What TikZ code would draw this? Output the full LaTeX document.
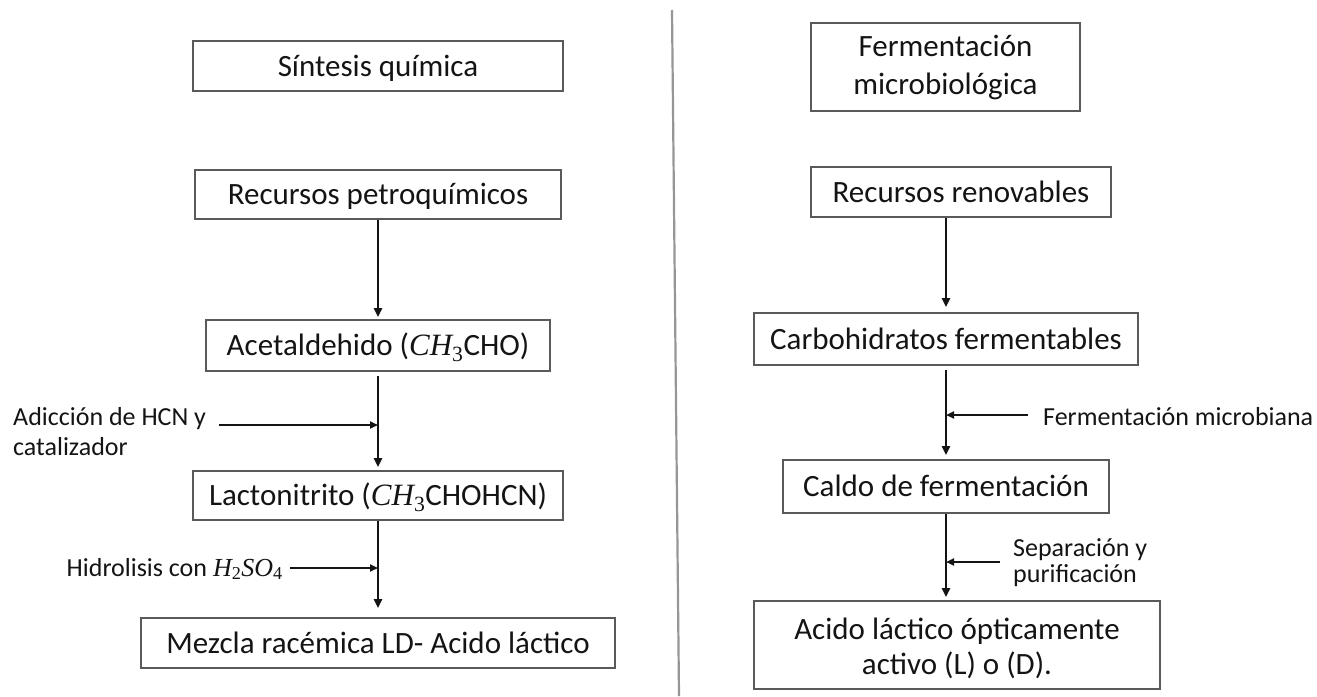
\documentclass[tikz,border=0pt]{standalone}
\usepackage{fontspec}
\setmainfont{Carlito}
\newfontfamily\formulafont{Liberation Serif}
\usetikzlibrary{arrows.meta}

% italic formula letters with upright subscripts
\newcommand{\fml}[1]{{\formulafont\itshape #1}}
\newcommand{\fsub}[1]{\textsubscript{\formulafont #1}}

\definecolor{ink}{RGB}{20,20,20}
\definecolor{frame}{RGB}{90,90,90}
\definecolor{divider}{RGB}{150,150,150}

\tikzset{
  box/.style={draw=frame, line width=1.8pt, inner sep=0pt, text=ink,
              font=\fontsize{31}{36}\selectfont, align=center},
  oneline/.style={text height=24pt, text depth=4pt},
  flow/.style={draw=ink, line width=2.3pt, -{Triangle[length=9pt,width=8pt]}},
  feed/.style={draw=ink, line width=1.9pt, -{Triangle[length=8pt,width=7pt]}},
  note/.style={inner sep=0pt, text=ink, align=left,
               font=\fontsize{26}{30}\selectfont},
}

\begin{document}
\begin{tikzpicture}[x=1pt, y=-1pt]
\useasboundingbox (0,0) rectangle (1317,696);

% divider between the two routes
\draw[divider, line width=2.2pt] (672,10) -- (679,696);

% ---- chemical synthesis route ----
\node[box, oneline, minimum width=370pt, minimum height=50pt] (sint) at (378,66) {Síntesis química};
\node[box, oneline, minimum width=366pt, minimum height=49pt] (petro) at (378,194.5) {Recursos petroquímicos};
\node[box, oneline, minimum width=344pt, minimum height=51pt] (acet) at (378,345.5)
  {Acetaldehido (\fml{CH}\fsub{3}CHO)};
\node[box, oneline, minimum width=370pt, minimum height=49pt] (lacto) at (378,495.5)
  {Lactonitrito (\fml{CH}\fsub{3}CHOHCN)};
\node[box, oneline, minimum width=474pt, minimum height=50pt] (mezcla) at (378,643)
  {Mezcla racémica LD- Acido láctico};

\draw[flow, shorten >=2pt] (petro.south) -- (petro.south |- acet.north);
\draw[flow, shorten <=4pt, shorten >=3pt] (acet.south) -- (acet.south |- lacto.north);
\draw[flow, shorten >=9pt] (lacto.south) -- (lacto.south |- mezcla.north);

\node[note, anchor=west] (adic) at (13,432) {Adicción de HCN y\\catalizador};
\coordinate (adicstart) at (219,425);
\coordinate (adicjoin) at (378,425);
\draw[feed] (adicstart) -- (adicjoin);

\node[note, anchor=base east] (hidro) at (283,576)
  {Hidrolisis con \fml{H}\fsub{2}\fml{SO}\fsub{4}};
\coordinate (hidrostart) at (290,568);
\coordinate (hidrojoin) at (378,568);
\draw[feed] (hidrostart) -- (hidrojoin);

% ---- microbial fermentation route ----
\node[box, minimum width=269pt, minimum height=88pt, font=\fontsize{31}{38}\selectfont]
  (ferm) at (945.5,67) {Fermentación\\microbiológica};
\node[box, oneline, minimum width=300pt, minimum height=50pt] (renov) at (961,192) {Recursos renovables};
\node[box, oneline, minimum width=384pt, minimum height=52pt] (carbo) at (946,339) {Carbohidratos fermentables};
\node[box, oneline, minimum width=326pt, minimum height=53pt] (caldo) at (946,486.5) {Caldo de fermentación};
\node[box, minimum width=406pt, minimum height=88pt, font=\fontsize{31}{35}\selectfont]
  (acido) at (957,645) {\rule{0pt}{28pt}Acido láctico ópticamente\\activo (L) o (D).};

\draw[flow, shorten >=5pt] (carbo.north |- renov.south) -- (carbo.north);
\draw[flow, shorten <=4pt, shorten >=4pt] (carbo.south) -- (carbo.south |- caldo.north);
\draw[flow, shorten >=3pt] (caldo.south) -- (caldo.south |- acido.north);

\node[note, anchor=base west] (fmic) at (1043,425) {Fermentación microbiana};
\coordinate (fmicstart) at (1028,415);
\coordinate (fmicjoin) at (946,415);
\draw[feed] (fmicstart) -- (fmicjoin);

\node[note, anchor=west, font=\fontsize{26}{26}\selectfont] (sep) at (1013,563) {Separación y\\purificación};
\coordinate (sepstart) at (1000,562);
\coordinate (sepjoin) at (946,562);
\draw[feed] (sepstart) -- (sepjoin);
\end{tikzpicture}
\end{document}
